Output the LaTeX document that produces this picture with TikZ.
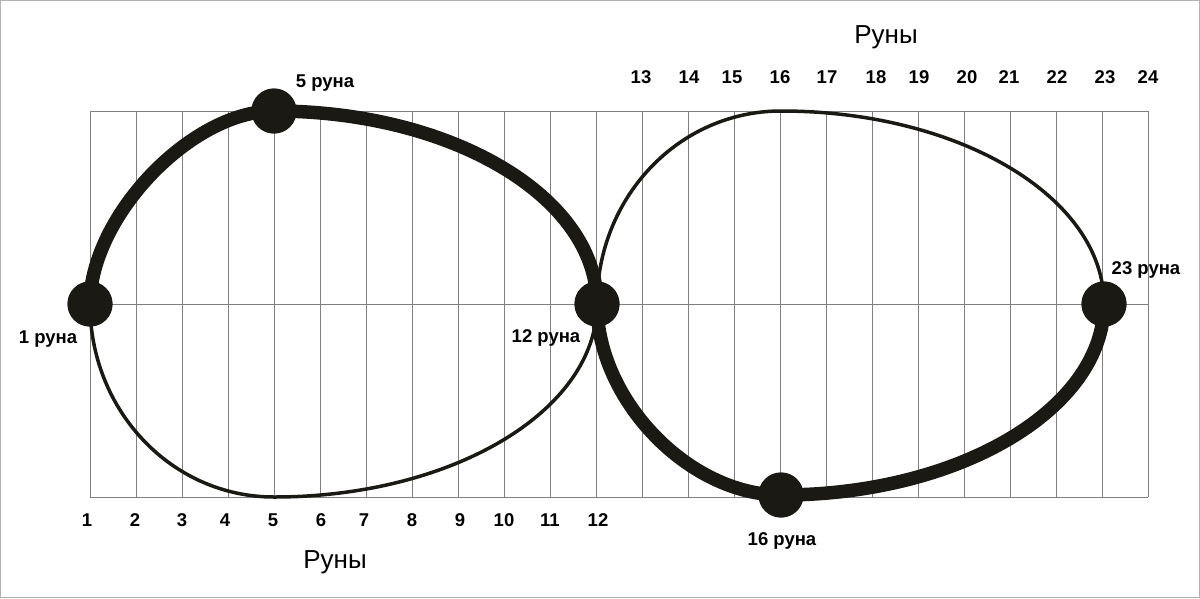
\documentclass[tikz,border=0pt]{standalone}
\usepackage{fontspec}
\setmainfont{Liberation Sans}
\definecolor{ink}{RGB}{26,25,20}
\definecolor{gridc}{RGB}{128,128,128}
\begin{document}
\begin{tikzpicture}[x=1pt,y=-1pt,
  gridline/.style={draw=gridc,line width=1pt},
  thinarc/.style={draw=ink,line width=3.5pt},
  thickarc/.style={draw=ink,line width=13.5pt},
  rdot/.style={circle,fill=ink,minimum size=45pt,inner sep=0pt},
  num/.style={font=\fontsize{18.5}{18.5}\selectfont\bfseries,anchor=base,inner sep=0pt},
  ttl/.style={font=\fontsize{26}{26}\selectfont,anchor=base,inner sep=0pt}]
\useasboundingbox (0,0) rectangle (1200,598);
\draw[gray!60,line width=1pt] (0.5,0.5) rectangle (1199.5,597.5);
% grid
\foreach \k in {0,...,23} \draw[gridline] (90+46*\k,111) -- (90+46*\k,497);
\draw[gridline] (90,111) -- (1148,111);
\draw[gridline] (90,497) -- (1148,497);
\draw[gridline,line width=0.8pt] (90,304) -- (1148,304);
% key points
\coordinate (lb) at (274,497);
\coordinate (rt) at (781,111);
\node[rdot] (r1) at (90,304) {};
\node[rdot] (r5) at (274,111) {};
\node[rdot] (r12) at (597,304) {};
\node[rdot] (r16) at (781,495) {};
\node[rdot] (r23) at (1104,304) {};
% thin arcs
\draw[thinarc] (r1.center) .. controls (90,411) and (172,497) .. (lb)
  .. controls (452,497) and (597,411) .. (r12.center);
\draw[thinarc] (r12.center) .. controls (597,197) and (679,111) .. (rt)
  .. controls (959,111) and (1104,197) .. (r23.center);
% thick arcs
\draw[thickarc] (r1.center) .. controls (90,217) and (191,111) .. (r5.center)
  .. controls (452,111) and (597,197) .. (r12.center);
\draw[thickarc] (r12.center) .. controls (597,400) and (689,495) .. (r16.center)
  .. controls (959,495) and (1104,409) .. (r23.center);
% redraw dots on top
\foreach \n in {r1,r5,r12,r16,r23} \fill[ink] (\n.center) circle (22.5);
% numbers
\foreach \x/\t in {87/1,135/2,182/3,225/4,273/5,321/6,364/7,412/8,460/9,504/10,550/11,598/12}
  \node[num] (b\t) at (\x,526) {\t};
\foreach \x/\t in {641/13,689/14,732/15,780/16,827/17,876/18,919/19,967/20,1009/21,1057/22,1105/23,1148/24}
  \node[num] (t\t) at (\x,83) {\t};
% labels
\node[num] (l5) at (325,87) {5 руна};
\node[num] (l1) at (48,343) {1 руна};
\node[num] (l12) at (546,342) {12 руна};
\node[num] (l16) at (782,545) {16 руна};
\node[num] (l23) at (1146,274) {23 руна};
\node[ttl] (top) at (886,43) {Руны};
\node[ttl] (bot) at (335,568) {Руны};
\end{tikzpicture}
\end{document}
